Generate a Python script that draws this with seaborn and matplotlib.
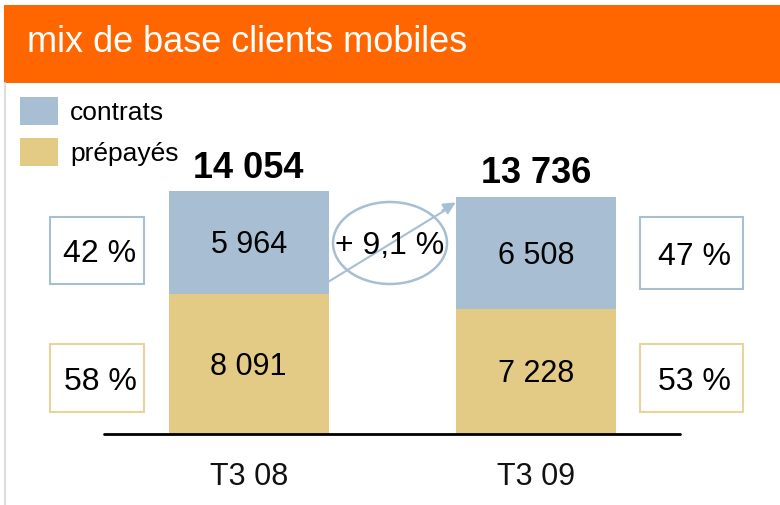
import pandas as pd
import seaborn as sns
import matplotlib.pyplot as plt
from matplotlib.patches import Rectangle, Ellipse, Patch
from matplotlib.lines import Line2D

# donnees (milliers de clients)
periodes = ['T3 08', 'T3 09']
contrats = [5964, 6508]
prepayes = [8091, 7228]
totaux = [14054, 13736]

bleu = '#a7bed3'
beige = '#e3cb86'
orange = '#ff6600'

df = pd.DataFrame({'periode': periodes, 'contrats': contrats,
                   'prepayes': prepayes, 'total': totaux})

sns.set_theme(style='white')
plt.rcParams['font.family'] = ['Liberation Sans', 'DejaVu Sans']
plt.rcParams['text.color'] = 'black'
plt.rcParams['xtick.color'] = 'black'

W, H = 780, 505
fig = plt.figure(figsize=(W / 100, H / 100), dpi=100)


def px(x, y):
    # pixels -> fraction de la figure
    return x / W, 1 - y / H


# bandeau du titre
fig.add_artist(Rectangle(px(4, 83), 776 / W, 78 / H, transform=fig.transFigure,
                         facecolor=orange, edgecolor='none'))
fig.text(*px(27, 43), 'mix de base clients mobiles', color='white',
         fontsize=26, va='center', ha='left')
fig.add_artist(Line2D([5 / W, 5 / W], [0, 1 - 83 / H], transform=fig.transFigure,
                      color='#dddddd', lw=1.5))

# axe principal
ax = fig.add_axes([104 / W, 1 - 434 / H, 576 / W, 352 / H])
sns.barplot(data=df, x='periode', y='total', color=bleu, saturation=1,
            width=0.556, linewidth=0, ax=ax)
sns.barplot(data=df, x='periode', y='prepayes', color=beige, saturation=1,
            width=0.556, linewidth=0, ax=ax)
ax.set_xlim(-0.503, 1.5)
ax.set_ylim(0, 20360)
sns.despine(ax=ax, left=True, bottom=True)
ax.axhline(0, color='black', lw=2, zorder=5, clip_on=False)
ax.set_yticks([])
ax.set_xlabel('')
ax.set_ylabel('')
ax.tick_params(axis='x', length=0, pad=20, labelsize=22, labelcolor='#111111')

for i in range(len(periodes)):
    ax.annotate(f'{contrats[i]:,}'.replace(',', ' '), (i, prepayes[i] + contrats[i] / 2),
                xytext=(0, -2), textcoords='offset points',
                ha='center', va='center', fontsize=22)
    ax.annotate(f'{prepayes[i]:,}'.replace(',', ' '), (i, prepayes[i] / 2),
                xytext=(0, -2), textcoords='offset points',
                ha='center', va='center', fontsize=22)
    ax.annotate(f'{totaux[i]:,}'.replace(',', ' '), (i, totaux[i]),
                xytext=(0, 16.5), textcoords='offset points',
                ha='center', va='center', fontsize=26, fontweight='bold')

# cadres de pourcentage
cadres = [(50, 217, 94, 67, 0, 'contrats'), (50, 344, 94, 68, 0, 'prepayes'),
          (640, 217, 103, 72, 1, 'contrats'), (640, 344, 103, 68, 1, 'prepayes')]
for x0, y0, w, h, i, serie in cadres:
    val = contrats[i] if serie == 'contrats' else prepayes[i]
    pct = round(100 * val / totaux[i])
    col = bleu if serie == 'contrats' else '#e8d49a'
    fig.add_artist(Rectangle(px(x0, y0 + h), w / W, h / H, transform=fig.transFigure,
                             facecolor='white', edgecolor=col, lw=1.5))
    fig.text(*px(x0 + w / 2 + 3, y0 + h / 2 + 4), f'{pct} %', ha='center', va='center',
             fontsize=23)

# croissance des contrats
croissance = (contrats[1] / contrats[0] - 1) * 100
fig.add_artist(Line2D([328 / W, 452 / W], [1 - 282 / H, 1 - 206 / H],
                      transform=fig.transFigure, color=bleu, lw=1.5))
fig.add_artist(plt.Annotation('', xy=px(458, 201), xytext=px(440, 212),
                              xycoords='figure fraction',
                              arrowprops=dict(arrowstyle='-|>', color=bleu,
                                              lw=1.5, mutation_scale=18)))
fig.add_artist(Ellipse(px(390, 243), 114 / W, 82 / H, transform=fig.transFigure,
                       facecolor='white', edgecolor=bleu, lw=1.8))
fig.text(*px(390, 246), f'+ {croissance:.1f} %'.replace('.', ','),
         ha='center', va='center', fontsize=23)

# legende
poignees = [Patch(facecolor=bleu, edgecolor='none'),
            Patch(facecolor=beige, edgecolor='none')]
fig.legend(poignees, ['contrats', 'prépayés'], loc='upper left',
           bbox_to_anchor=px(20, 97), frameon=False, fontsize=19,
           handlelength=1.45, handleheight=1.25, handletextpad=0.45,
           labelspacing=0.5, borderpad=0, borderaxespad=0)

plt.savefig('out.png', dpi=100)
